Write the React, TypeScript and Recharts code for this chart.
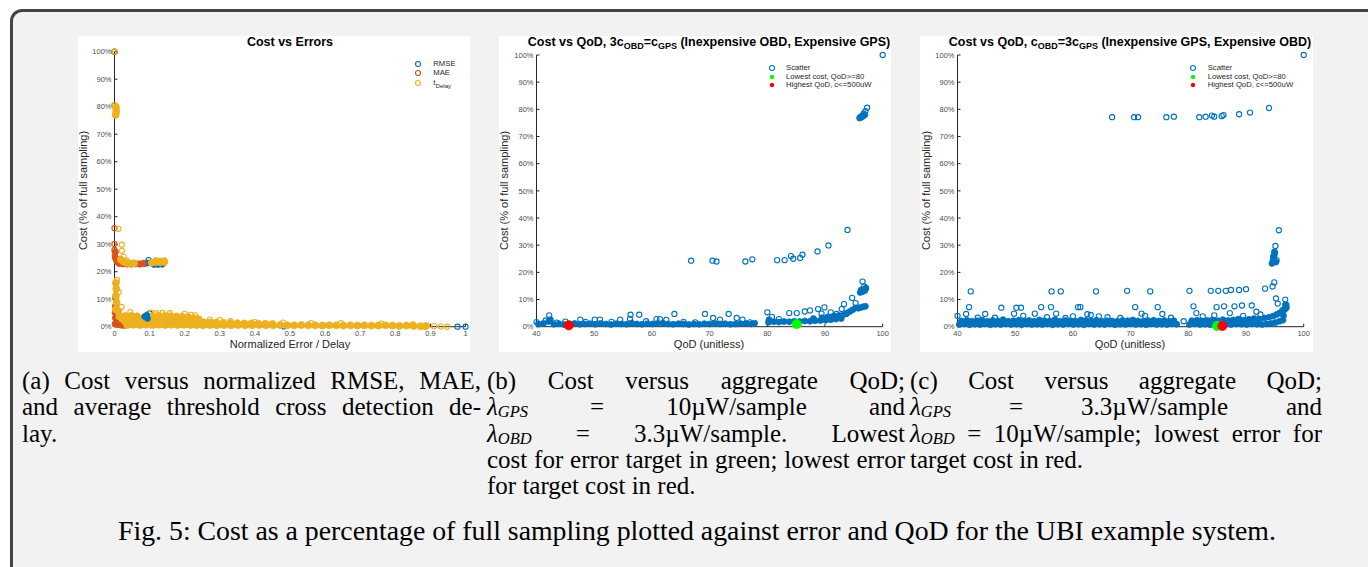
import { Scatter, ScatterChart, XAxis, YAxis } from "recharts";

const SANS = '"Liberation Sans", Arial, Helvetica, sans-serif';
const SERIF = '"Liberation Serif", "Times New Roman", serif';

const palette = {
  blue: "#0072BD",
  orange: "#D95319",
  yellow: "#EDB120",
  green: "#00FF00",
  red: "#FF0000",
  axis: "#262626",
  tick: "#4d4d4d",
};

const costTicks = [0, 10, 20, 30, 40, 50, 60, 70, 80, 90, 100];
const errorTicks = [0, 0.1, 0.2, 0.3, 0.4, 0.5, 0.6, 0.7, 0.8, 0.9, 1];
const qodTicks = [40, 50, 60, 70, 80, 90, 100];

// (a) cost vs normalized error / delay  -> [error, cost %]
const rmseRings = [[0, 100], [0.097, 24.2], [0.1, 4.8], [0.097, 3.1], [0.977, 0], [1, 0], [0.482, 0.1]];
const rmseBand = [[0.088, 23.0], [0.097, 23.2], [0.112, 22.6], [0.124, 22.6], [0.136, 22.7]];
const rmseLow = [[0.086, 3.7], [0.094, 3.0], [0.092, 4.2]];
const maeRings = [[0, 100], [0, 80.6], [0, 35.8], [0, 30.1], [0, 27.9], [0.001, 25.6]];
const maeCloud = [
  [0.002, 27.2], [0.003, 25.0], [0.007, 23.7], [0.014, 23.0], [0.024, 22.9], [0.036, 22.8], [0.048, 22.8], [0.06, 22.9],
  [0.072, 22.8], [0.082, 23.0], [0.002, 1.0], [0.01, 0.8], [0.019, 0.6], [0.027, 0.5], [0.003, 3.2], [0.009, 2.3],
  [0.002, 5.2], [0.003, 7.5], [0.003, 10.5],
];
const delayRings = [
  [0, 100], [0, 80.6], [0.005, 80.0], [0.011, 35.6], [0.021, 29.8], [0.021, 27.6], [0.026, 25.4], [0.034, 24.1],
  [0.118, 24.2], [0.13, 23.9], [0.142, 24.1], [0.104, 5.1], [0.119, 4.9], [0.137, 5.0], [0.158, 4.9], [0.2, 4.7],
  [0.218, 4.3], [0.23, 4.1], [0.272, 2.6], [0.3, 2.4], [0.33, 2.0], [0.4, 1.7], [0.48, 1.5], [0.56, 1.3],
  [0.645, 1.3], [0.76, 1.1], [0.85, 0.8], [0.89, 0.4], [0.91, 0.2], [0.93, 0.1], [0.948, 0], [0.007, 17.0],
  [0.003, 16.0], [0.012, 12.6], [0.02, 7.2], [0.045, 5.3],
];
const delayCloud = [
  [0.003, 77.0], [0.005, 78.2], [0.004, 79.5],
  [0.004, 6.3], [0.006, 8.8], [0.004, 11.3], [0.005, 13.8], [0.004, 15.9], [0.011, 5.6],
  [0.018, 24.4], [0.026, 23.6], [0.036, 23.2], [0.046, 23.0], [0.056, 23.1], [0.106, 23.3], [0.118, 23.5], [0.13, 23.4], [0.142, 23.5],
  [0.014, 3.7], [0.03, 3.9], [0.047, 4.0], [0.064, 3.8], [0.108, 3.9], [0.125, 4.0], [0.142, 3.9], [0.159, 3.8],
  [0.176, 3.7], [0.193, 3.6], [0.21, 3.4], [0.226, 3.1], [0.24, 2.7],
  [0.022, 2.9], [0.039, 3.0], [0.056, 2.9], [0.073, 3.0], [0.116, 3.0], [0.133, 2.9], [0.15, 3.0], [0.167, 2.9],
  [0.184, 3.0], [0.201, 2.8], [0.218, 2.7], [0.234, 2.4],
  [0.03, 2.0], [0.047, 2.1], [0.064, 1.9], [0.08, 2.0], [0.1, 1.9], [0.117, 2.1], [0.134, 2.0], [0.151, 1.9],
  [0.168, 2.0], [0.185, 2.1], [0.202, 1.9], [0.219, 2.0], [0.236, 1.8], [0.254, 1.6], [0.272, 1.5], [0.29, 1.5],
  [0.31, 1.4], [0.33, 1.3], [0.35, 1.3], [0.37, 1.2], [0.39, 1.2], [0.41, 1.1], [0.43, 1.1], [0.45, 1.0],
  [0.044, 1.2], [0.062, 1.3], [0.08, 1.2], [0.098, 1.3], [0.116, 1.2], [0.134, 1.3], [0.152, 1.2], [0.17, 1.3],
  [0.188, 1.2], [0.206, 1.3], [0.224, 1.2], [0.242, 1.1],
  [0.036, 0.6], [0.054, 0.7], [0.072, 0.6], [0.09, 0.7], [0.108, 0.6], [0.126, 0.7], [0.144, 0.6], [0.162, 0.7],
  [0.18, 0.6], [0.198, 0.7], [0.216, 0.6], [0.234, 0.6], [0.252, 0.5], [0.272, 0.6], [0.292, 0.5], [0.312, 0.6],
  [0.332, 0.5], [0.352, 0.6], [0.372, 0.5], [0.392, 0.5], [0.412, 0.6], [0.432, 0.5], [0.452, 0.5], [0.472, 0.6],
  [0.492, 0.5], [0.512, 0.5], [0.532, 0.6], [0.552, 0.5], [0.572, 0.5], [0.592, 0.4], [0.612, 0.5], [0.632, 0.5],
  [0.652, 0.4], [0.672, 0.5], [0.692, 0.4], [0.712, 0.5], [0.732, 0.4], [0.752, 0.4], [0.772, 0.5], [0.792, 0.4],
  [0.812, 0.3], [0.832, 0.4], [0.852, 0.3], [0.872, 0.2], [0.886, 0.2],
];

// (b) 3c_OBD = c_GPS  -> [QoD, cost %]
const obdCheapRings = [
  [100, 100], [97.3, 80.6], [97.0, 79.3], [96.7, 78.4], [96.4, 77.6], [96.1, 77.1], [93.9, 35.6], [90.6, 29.9],
  [88.7, 27.7], [86.1, 26.5], [85.7, 25.3], [84.5, 25.0], [84.1, 26.0], [83.0, 24.5], [81.7, 24.5], [77.4, 24.8],
  [76.2, 24.0], [71.2, 24.0], [70.5, 24.3], [66.8, 24.3],
  [96.5, 16.6], [96.8, 14.8], [97.0, 14.0], [94.7, 10.6], [95.3, 8.7], [93.3, 8.3], [92.9, 6.5], [93.7, 4.7],
  [80.0, 5.3], [80.8, 3.6], [82.0, 2.8], [83.8, 5.0], [85.1, 5.0], [86.5, 5.6], [87.4, 6.0], [88.8, 6.5],
  [89.4, 4.8], [89.9, 7.1], [91.0, 5.3], [92.0, 4.7], [91.5, 3.8], [90.5, 3.5],
  [40.0, 1.7], [41.6, 2.3], [42.2, 4.2], [45.0, 1.9], [47.6, 2.6], [50.1, 2.6], [51.0, 2.6], [54.5, 2.6],
  [56.2, 2.9], [56.3, 4.4], [57.8, 4.4], [60.8, 2.8], [61.4, 2.8], [62.5, 2.5], [63.9, 4.7], [69.2, 4.7],
  [70.6, 3.2], [71.8, 2.6], [73.3, 4.7], [74.7, 3.2], [75.7, 2.6], [77.0, 1.6], [43.5, 1.5], [48.5, 1.8],
  [53.0, 1.8], [59.0, 2.0], [65.5, 1.8], [67.5, 1.6],
];
const obdCheapCloud = [
  [40.3, 1.0], [41.2, 1.2], [42.1, 1.9], [42.4, 2.6], [43.0, 0.9], [43.9, 1.1], [44.8, 0.8], [45.7, 1.0],
  [46.6, 1.2], [47.5, 0.9], [48.4, 1.0], [49.3, 1.1], [50.2, 0.9], [51.1, 1.2], [52.0, 1.0], [52.9, 0.8],
  [53.8, 1.1], [54.7, 1.0], [55.6, 0.9], [56.5, 1.3], [57.4, 1.0], [58.3, 0.9], [59.2, 1.1], [60.1, 1.0],
  [61.0, 1.2], [61.9, 1.3], [62.8, 1.0], [63.7, 0.9], [64.6, 1.1], [65.5, 1.0], [66.4, 0.8], [67.3, 1.0],
  [68.2, 0.9], [69.1, 1.1], [70.0, 1.0], [70.9, 1.2], [71.8, 1.0], [72.7, 1.1], [73.6, 0.9], [74.5, 1.0],
  [75.4, 1.1], [76.3, 1.2], [77.2, 1.0], [77.8, 1.3],
  [80.2, 1.6], [80.3, 2.6], [81.1, 1.8], [82.0, 1.7], [82.9, 1.9], [83.8, 1.8], [84.7, 2.0], [85.6, 1.9],
  [86.5, 2.1], [87.4, 2.0], [88.3, 2.2], [89.2, 2.3], [90.1, 2.4], [91.0, 2.6], [91.9, 2.8], [92.8, 3.0],
  [88.0, 3.0], [89.5, 3.3], [90.5, 3.6], [91.5, 3.9], [92.4, 4.1], [93.2, 4.4], [93.8, 5.0], [94.3, 5.6],
  [94.8, 6.2], [95.3, 6.9], [95.8, 6.8], [96.2, 7.1], [96.6, 7.3], [97.0, 7.5],
  [96.1, 12.6], [96.5, 12.9], [96.9, 13.3], [97.1, 14.2], [96.3, 13.6],
  [96.0, 76.8], [96.3, 77.1], [96.6, 77.5], [96.9, 78.0],
];
const obdCheapLowestCost = [[85.1, 1.0]];
const obdCheapHighestQod = [[45.6, 0.5]];

// (c) c_OBD = 3c_GPS  -> [QoD, cost %]
const gpsCheapRings = [
  [100, 100], [94.0, 80.5], [90.7, 78.8], [88.8, 78.2], [86.1, 77.9], [85.8, 77.5], [84.5, 77.3], [84.1, 77.7],
  [83.0, 77.3], [81.9, 77.1], [77.5, 77.3], [76.2, 77.1], [71.3, 77.1], [70.6, 77.1], [66.8, 77.1],
  [95.7, 35.5], [95.1, 29.7], [94.9, 27.6], [94.7, 25.8], [94.6, 23.5], [95.3, 24.5], [94.9, 16.3], [95.2, 10.4],
  [94.6, 14.8], [93.3, 14.0], [96.8, 10.0], [97.0, 8.0], [96.3, 6.1],
  [42.3, 13.0], [56.3, 13.0], [57.9, 13.0], [64.0, 13.0], [69.4, 13.2], [73.4, 13.0], [80.2, 13.2], [83.9, 13.2],
  [85.2, 13.2], [86.5, 13.2], [87.4, 13.5], [88.8, 13.5], [90.0, 13.8],
  [42.0, 7.2], [47.6, 7.0], [50.2, 7.0], [51.0, 7.0], [54.5, 7.2], [56.2, 7.2], [60.9, 7.2], [61.3, 7.2],
  [70.8, 7.2], [74.7, 7.2], [80.9, 7.5], [84.9, 7.2], [86.2, 7.5], [88.0, 7.5], [89.3, 7.8], [91.0, 7.8], [95.5, 8.5],
  [41.5, 4.7], [44.8, 4.7], [49.8, 4.8], [51.4, 4.0], [53.4, 4.8], [57.1, 4.8], [62.5, 4.6], [63.1, 4.3],
  [71.9, 4.8], [75.5, 4.7], [81.4, 5.0], [87.2, 5.0], [91.8, 5.5], [46.5, 3.3], [58.7, 3.2], [66.0, 3.5],
  [68.2, 3.2], [77.0, 3.3], [82.5, 3.8], [84.5, 4.2], [89.5, 4.0], [92.5, 4.5], [40.0, 4.0], [43.5, 3.3],
  [55.5, 3.5], [60.0, 3.8], [64.5, 3.8], [72.5, 4.0], [79.2, 2.0],
];
const gpsCheapCloud = [
  [40.3, 0.8], [41.2, 1.0], [42.1, 0.7], [43.0, 0.9], [43.9, 0.8], [44.8, 1.0], [45.7, 0.7], [46.6, 0.9],
  [47.5, 0.8], [48.4, 1.0], [49.3, 0.8], [50.2, 0.9], [51.1, 0.7], [52.0, 1.0], [52.9, 0.8], [53.8, 0.9],
  [54.7, 0.8], [55.6, 1.0], [56.5, 0.7], [57.4, 0.9], [58.3, 0.8], [59.2, 1.0], [60.1, 0.8], [61.0, 0.9],
  [61.9, 0.7], [62.8, 1.0], [63.7, 0.8], [64.6, 0.9], [65.5, 0.8], [66.4, 1.0], [67.3, 0.7], [68.2, 0.9],
  [69.1, 0.8], [70.0, 1.0], [70.9, 0.8], [71.8, 0.9], [72.7, 0.7], [73.6, 1.0], [74.5, 0.8], [75.4, 0.9],
  [76.3, 0.8], [77.2, 1.0], [78.0, 0.9],
  [40.7, 2.1], [41.6, 2.4], [42.5, 2.0], [43.4, 2.2], [44.3, 2.5], [45.2, 2.0], [46.1, 2.3], [47.0, 2.1],
  [47.9, 2.6], [48.8, 2.0], [49.7, 2.2], [50.6, 2.4], [51.5, 2.1], [52.4, 2.3], [53.3, 2.0], [54.2, 2.5],
  [55.1, 2.2], [56.0, 2.1], [56.9, 2.6], [57.8, 2.0], [58.7, 2.3], [59.6, 2.2], [60.5, 2.0], [61.4, 2.5],
  [62.3, 2.3], [63.2, 2.1], [64.1, 2.4], [65.0, 2.0], [65.9, 2.2], [66.8, 2.1], [67.7, 2.0], [68.6, 2.3],
  [69.5, 2.2], [70.4, 2.5], [71.3, 2.1], [72.2, 2.0], [73.1, 2.2], [74.0, 2.4], [74.9, 2.1], [75.8, 2.3],
  [76.7, 2.0], [77.5, 2.2],
  [80.2, 0.8], [81.1, 1.0], [82.0, 0.8], [82.9, 0.9], [83.8, 0.7], [84.7, 1.0], [85.6, 0.8], [86.5, 0.9],
  [87.4, 0.8], [88.3, 1.0], [89.2, 0.9], [90.1, 0.8], [91.0, 1.0], [91.9, 0.9], [92.8, 0.8], [93.6, 1.0],
  [94.4, 1.2], [95.1, 1.5], [95.8, 2.0], [96.4, 2.4],
  [80.6, 2.2], [81.5, 2.4], [82.4, 2.1], [83.3, 2.3], [84.2, 2.5], [85.1, 2.2], [86.0, 2.6], [86.9, 2.3],
  [87.8, 2.5], [88.7, 2.8], [89.6, 2.4], [90.5, 2.7], [91.4, 3.0], [92.3, 2.8], [93.2, 3.2], [94.0, 3.5],
  [94.7, 3.9], [95.3, 4.5], [95.8, 5.0], [96.3, 5.6], [96.7, 6.3], [97.0, 7.0], [96.8, 8.0], [96.5, 4.0],
  [94.5, 23.3], [94.7, 24.2], [94.8, 25.2], [94.9, 26.3], [95.0, 27.3], [95.2, 23.8],
];
const gpsCheapLowestCost = [[85.0, 0.3]];
const gpsCheapHighestQod = [[85.9, 0.3]];

const toPoints = (pairs: number[][]) => pairs.map(([x, y]) => ({ x, y }));

const ring = (color: string) => (p: any) => (
  <circle cx={p.cx} cy={p.cy} r={2.6} fill="none" stroke={color} strokeWidth={1.1} />
);
const dot = (color: string, r: number) => (p: any) => (
  <circle cx={p.cx} cy={p.cy} r={r} fill={color} stroke={color} strokeWidth={0.8} />
);

type Layer = { name: string; data: number[][]; shape: (p: any) => any };

const tickFont = { fontSize: 7.5, fill: palette.tick, fontFamily: SANS };
const axisStroke = { stroke: palette.axis, strokeWidth: 1 };

function ScatterPanel(props: {
  left: number;
  top: number;
  width: number;
  height: number;
  margin: { top: number; right: number; bottom: number; left: number };
  xDomain: [number, number];
  xTicks: number[];
  layers: Layer[];
}) {
  const { left, top, width, height, margin, xDomain, xTicks, layers } = props;
  return (
    <div style={{ position: "absolute", left, top, width, height, background: "#fff" }}>
      <ScatterChart width={width} height={height} margin={margin}>
        <XAxis
          type="number"
          dataKey="x"
          domain={xDomain}
          ticks={xTicks}
          interval={0}
          height={10}
          tickSize={-3}
          tickMargin={7}
          axisLine={axisStroke}
          tickLine={axisStroke}
          tick={tickFont}
        />
        <YAxis
          type="number"
          dataKey="y"
          domain={[0, 100]}
          ticks={costTicks}
          interval={0}
          width={10}
          tickSize={-3}
          tickMargin={6}
          tickFormatter={(v: number) => `${v}%`}
          axisLine={axisStroke}
          tickLine={axisStroke}
          tick={tickFont}
        />
        {layers.map((l) => (
          <Scatter key={l.name} name={l.name} data={toPoints(l.data)} shape={l.shape} isAnimationActive={false} />
        ))}
      </ScatterChart>
    </div>
  );
}

const subStyle = { fontSize: "0.72em", verticalAlign: "-0.35em", lineHeight: 0 } as const;

function Title({ cx, children }: { cx: number; children: any }) {
  return (
    <div
      style={{
        position: "absolute",
        left: cx - 220,
        top: 35,
        width: 440,
        textAlign: "center",
        fontFamily: SANS,
        fontWeight: "bold",
        fontSize: 12.5,
        lineHeight: "14px",
        color: "#000",
        whiteSpace: "nowrap",
      }}
    >
      {children}
    </div>
  );
}

function XLabel({ cx, text }: { cx: number; text: string }) {
  return (
    <div
      style={{
        position: "absolute",
        left: cx - 120,
        top: 338,
        width: 240,
        textAlign: "center",
        fontFamily: SANS,
        fontSize: 11,
        lineHeight: "13px",
        color: palette.axis,
      }}
    >
      {text}
    </div>
  );
}

function YLabel({ cx, cy }: { cx: number; cy: number }) {
  return (
    <div
      style={{
        position: "absolute",
        left: cx - 100,
        top: cy - 6.5,
        width: 200,
        height: 13,
        textAlign: "center",
        fontFamily: SANS,
        fontSize: 11,
        lineHeight: "13px",
        color: palette.axis,
        transform: "rotate(-90deg)",
      }}
    >
      Cost (% of full sampling)
    </div>
  );
}

function LegendRow(props: { x: number; y: number; textX: number; kind: "ring" | "dot"; color: string; children: any }) {
  const { x, y, textX, kind, color, children } = props;
  return (
    <>
      <svg style={{ position: "absolute", left: x - 4, top: y - 4 }} width={8} height={8}>
        {kind === "ring" ? (
          <circle cx={4} cy={4} r={2.5} fill="none" stroke={color} strokeWidth={1.1} />
        ) : (
          <circle cx={4} cy={4} r={2.2} fill={color} />
        )}
      </svg>
      <div
        style={{
          position: "absolute",
          left: textX,
          top: y - 5,
          fontFamily: SANS,
          fontSize: 7.7,
          lineHeight: "10px",
          color: palette.axis,
          whiteSpace: "nowrap",
        }}
      >
        {children}
      </div>
    </>
  );
}

function Lam({ s }: { s: string }) {
  return (
    <span>
      <i>λ</i>
      <sub style={{ fontSize: "0.66em", fontStyle: "italic", verticalAlign: "-0.1em", lineHeight: 0 }}>{s}</sub>
    </span>
  );
}

const capFont = 25;
const capLine = 26.25;
const fullLine = { textAlign: "justify", textAlignLast: "justify" } as const;
const lastLine = { textAlign: "left" } as const;

function CaptionColumn({ left, width, lines }: { left: number; width: number; lines: any[] }) {
  return (
    <div
      style={{
        position: "absolute",
        left,
        top: 368,
        width,
        fontFamily: SERIF,
        fontSize: capFont,
        lineHeight: `${capLine}px`,
        color: "#000",
      }}
    >
      {lines.map((l, i) => (
        <div key={i} style={i === lines.length - 1 ? lastLine : fullLine}>
          {l}
        </div>
      ))}
    </div>
  );
}

export default function App() {
  return (
    <div style={{ position: "absolute", left: 0, top: 0, width: 1368, height: 567, overflow: "hidden", background: "#fff" }}>
      <div
        style={{
          position: "absolute",
          left: 10,
          top: 9,
          width: 1420,
          height: 620,
          border: "3px solid #444",
          borderRadius: 12,
          background: "#f2f2f2",
        }}
      />

      <ScatterPanel
        left={78}
        top={36}
        width={392}
        height={316}
        margin={{ top: 15.7, right: 4.5, bottom: 15.3, left: 26.5 }}
        xDomain={[0, 1]}
        xTicks={errorTicks}
        layers={[
          { name: "RMSE rings", data: rmseRings, shape: ring(palette.blue) },
          { name: "RMSE band", data: rmseBand, shape: dot(palette.blue, 3.0) },
          { name: "MAE", data: maeCloud, shape: dot(palette.orange, 3.2) },
          { name: "MAE rings", data: maeRings, shape: ring(palette.orange) },
          { name: "tDelay", data: delayCloud, shape: dot(palette.yellow, 3.5) },
          { name: "tDelay rings", data: delayRings, shape: ring(palette.yellow) },
          { name: "RMSE low", data: rmseLow, shape: dot(palette.blue, 3.0) },
        ]}
      />
      <ScatterPanel
        left={499}
        top={36}
        width={392}
        height={316}
        margin={{ top: 19, right: 8.3, bottom: 15.3, left: 27.5 }}
        xDomain={[40, 100]}
        xTicks={qodTicks}
        layers={[
          { name: "Scatter cloud", data: obdCheapCloud, shape: dot(palette.blue, 3.0) },
          { name: "Scatter", data: obdCheapRings, shape: ring(palette.blue) },
          { name: "Lowest cost", data: obdCheapLowestCost, shape: dot(palette.green, 4.6) },
          { name: "Highest QoD", data: obdCheapHighestQod, shape: dot(palette.red, 4.6) },
        ]}
      />
      <ScatterPanel
        left={920}
        top={36}
        width={393}
        height={316}
        margin={{ top: 19, right: 9.3, bottom: 15.3, left: 27.5 }}
        xDomain={[40, 100]}
        xTicks={qodTicks}
        layers={[
          { name: "Scatter cloud", data: gpsCheapCloud, shape: dot(palette.blue, 3.0) },
          { name: "Scatter", data: gpsCheapRings, shape: ring(palette.blue) },
          { name: "Lowest cost", data: gpsCheapLowestCost, shape: dot(palette.green, 4.6) },
          { name: "Highest QoD", data: gpsCheapHighestQod, shape: dot(palette.red, 4.6) },
        ]}
      />

      <Title cx={290}>Cost vs Errors</Title>
      <Title cx={709}>
        Cost vs QoD, 3c<sub style={subStyle}>OBD</sub>=c<sub style={subStyle}>GPS</sub> (Inexpensive OBD, Expensive GPS)
      </Title>
      <Title cx={1130}>
        Cost vs QoD, c<sub style={subStyle}>OBD</sub>=3c<sub style={subStyle}>GPS</sub> (Inexpensive GPS, Expensive OBD)
      </Title>

      <XLabel cx={290} text="Normalized Error / Delay" />
      <XLabel cx={709} text="QoD (unitless)" />
      <XLabel cx={1130} text="QoD (unitless)" />
      <YLabel cx={83.3} cy={190} />
      <YLabel cx={504} cy={190} />
      <YLabel cx={925.7} cy={190} />

      <LegendRow x={418.3} y={64.3} textX={433.3} kind="ring" color={palette.blue}>RMSE</LegendRow>
      <LegendRow x={418.3} y={73.3} textX={433.3} kind="ring" color={palette.orange}>MAE</LegendRow>
      <LegendRow x={418.3} y={83} textX={433.3} kind="ring" color={palette.yellow}>
        t<sub style={{ fontSize: "0.8em", verticalAlign: "-0.45em", lineHeight: 0 }}>Delay</sub>
      </LegendRow>

      <LegendRow x={771.7} y={68.3} textX={786} kind="ring" color={palette.blue}>Scatter</LegendRow>
      <LegendRow x={771.7} y={76.7} textX={786} kind="dot" color={palette.green}>Lowest cost, QoD&gt;=80</LegendRow>
      <LegendRow x={771.7} y={85} textX={786} kind="dot" color={palette.red}>Highest QoD, c&lt;=500uW</LegendRow>

      <LegendRow x={1193.3} y={68.3} textX={1207.7} kind="ring" color={palette.blue}>Scatter</LegendRow>
      <LegendRow x={1193.3} y={76.7} textX={1207.7} kind="dot" color={palette.green}>Lowest cost, QoD&gt;=80</LegendRow>
      <LegendRow x={1193.3} y={85} textX={1207.7} kind="dot" color={palette.red}>Highest QoD, c&lt;=500uW</LegendRow>

      <CaptionColumn
        left={22}
        width={459}
        lines={["(a) Cost versus normalized RMSE, MAE,", "and average threshold cross detection de-", "lay."]}
      />
      <CaptionColumn
        left={487}
        width={418}
        lines={[
          "(b) Cost versus aggregate QoD;",
          <>
            <Lam s="GPS" /> = 10µW/sample and
          </>,
          <>
            <Lam s="OBD" /> = 3.3µW/sample. Lowest
          </>,
          "cost for error target in green; lowest error",
          "for target cost in red.",
        ]}
      />
      <CaptionColumn
        left={910}
        width={412}
        lines={[
          "(c) Cost versus aggregate QoD;",
          <>
            <Lam s="GPS" /> = 3.3µW/sample and
          </>,
          <>
            <Lam s="OBD" /> = 10µW/sample; lowest error for
          </>,
          "target cost in red.",
        ]}
      />

      <div
        style={{
          position: "absolute",
          left: 118,
          top: 516,
          fontFamily: SERIF,
          fontSize: 27.8,
          lineHeight: "30px",
          color: "#000",
          whiteSpace: "nowrap",
        }}
      >
        Fig. 5: Cost as a percentage of full sampling plotted against error and QoD for the UBI example system.
      </div>
    </div>
  );
}
